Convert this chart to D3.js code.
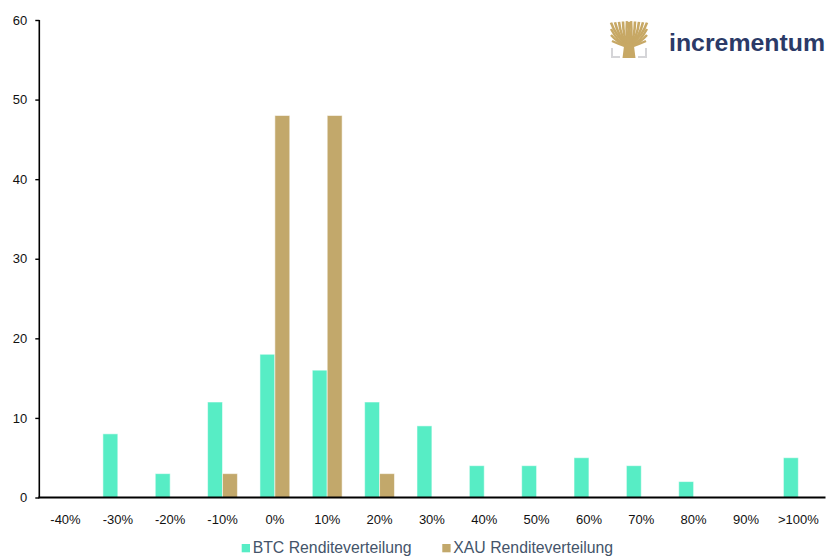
<!DOCTYPE html>
<html><head><meta charset="utf-8">
<script src="https://cdn.jsdelivr.net/npm/d3@7"></script>
<style>body{margin:0;background:#fff}svg{display:block}text{font-family:"Liberation Sans",Arial,sans-serif}</style>
</head><body>
<svg id="c" width="835" height="557"></svg>
<script>
const categories = ["-40%","-30%","-20%","-10%","0%","10%","20%","30%","40%","50%","60%","70%","80%","90%",">100%"];
const btcValues = [0,8,3,12,18,16,12,9,4,4,5,4,2,0,5];
const xauValues = [0,0,0,3,48,48,3,0,0,0,0,0,0,0,0];
const seriesNames = ["BTC Renditeverteilung","XAU Renditeverteilung"];
const seriesColors = ["#57EDC5","#C2A86B"];
const yTicks = [0,10,20,30,40,50,60];

const svg = d3.select("#c");
const x0 = 39.3, x1 = 824.5, yB = 497.5, yT = 20;
const x = d3.scaleBand().domain(categories).range([x0,x1]).paddingInner(0.43).paddingOuter(0.215);
const xs = d3.scaleBand().domain([0,1]).range([0,x.bandwidth()]);
const y = d3.scaleLinear().domain([0,60]).range([yB,yT]);

const rows = categories.map((c,i)=>({c, v:[btcValues[i],xauValues[i]]}));
const g = svg.append("g");
rows.forEach(r=>{
  r.v.forEach((v,k)=>{
    if(v<=0) return;
    g.append("rect").attr("x",x(r.c)+xs(k)).attr("y",y(v)).attr("width",xs.bandwidth()).attr("height",y(0)-y(v))
     .attr("fill",seriesColors[k]).attr("stroke","rgba(255,255,255,0.55)").attr("stroke-width",1);
  });
});

// y axis
const ya = svg.append("g").attr("transform",`translate(${x0},0)`)
  .call(d3.axisLeft(y).tickValues(yTicks).tickSize(4).tickPadding(8).tickSizeOuter(0));
ya.select(".domain").attr("stroke","#000").attr("stroke-width",1.6);
ya.selectAll(".tick line").attr("stroke","#000").attr("stroke-width",1.4);
ya.selectAll(".tick text").attr("font-size",13).attr("fill","#111").style("font-family","'Liberation Sans',Arial,sans-serif");
ya.select(".domain").attr("d",`M-0,${yT}V${yB}`);

// x axis
const xa = svg.append("g").attr("transform",`translate(0,${yB})`)
  .call(d3.axisBottom(x).tickSize(0).tickPadding(17).tickSizeOuter(0));
xa.select(".domain").attr("stroke","#000").attr("stroke-width",2).attr("d",`M${x0-1},0H${x1+1}`);
xa.selectAll(".tick text").attr("font-size",13).attr("fill","#111").style("font-family","'Liberation Sans',Arial,sans-serif");

// legend
const leg = [{x:241.7},{x:442.3}];
seriesNames.forEach((n,i)=>{
  svg.append("rect").attr("x",leg[i].x).attr("y",544).attr("width",8.3).attr("height",8.3).attr("fill",seriesColors[i]);
  svg.append("text").attr("x",leg[i].x+11).attr("y",553).attr("font-size",15.8).attr("fill","#44546A").text(n);
});

// logo
const lg = svg.append("g");
const gold = "#C7A865";
// trunk
lg.append("path").attr("d","M622.5,58 L624,46 Q622,40 616,36 L628,38 L628,22 L630,22 L630,38 L642,35 Q635,40 634,46 L635.5,58 Z").attr("fill",gold);
// branches fanning to top
const tops = [611,615,619,623,627,631,635,639,643,647];
tops.forEach((tx,i)=>{
  const sx = 625 + i*0.9, sy = 44 - Math.abs(i-4.5)*0.4;
  const ty = 21 + Math.abs(i-4.5)*0.35;
  lg.append("path").attr("d",`M${sx},${sy} Q${(sx+tx)/2 + (tx<629?-2:2)},${sy-6} ${tx},${ty}`)
    .attr("stroke",gold).attr("stroke-width",2.6).attr("fill","none");
});
// side branches
[[625,44,611,29],[625,45,611,35],[633,44,647,29],[633,45,647,35],[625,46,612,41],[633,46,646,41]].forEach(b=>
  lg.append("path").attr("d",`M${b[0]},${b[1]} Q${(b[0]+b[2])/2},${b[1]-2} ${b[2]},${b[3]}`).attr("stroke",gold).attr("stroke-width",2.4).attr("fill","none"));
// gray brackets
lg.append("path").attr("d","M612,48 V57 H620").attr("stroke","#D5D5D8").attr("stroke-width",2).attr("fill","none");
lg.append("path").attr("d","M646,48 V57 H638").attr("stroke","#D5D5D8").attr("stroke-width",2).attr("fill","none");
lg.append("text").attr("x",669).attr("y",51).attr("font-size",24.5).attr("font-weight","bold").attr("fill","#2B3A67")
  .attr("textLength",156).attr("lengthAdjust","spacingAndGlyphs").text("incrementum");
</script>
</body></html>
